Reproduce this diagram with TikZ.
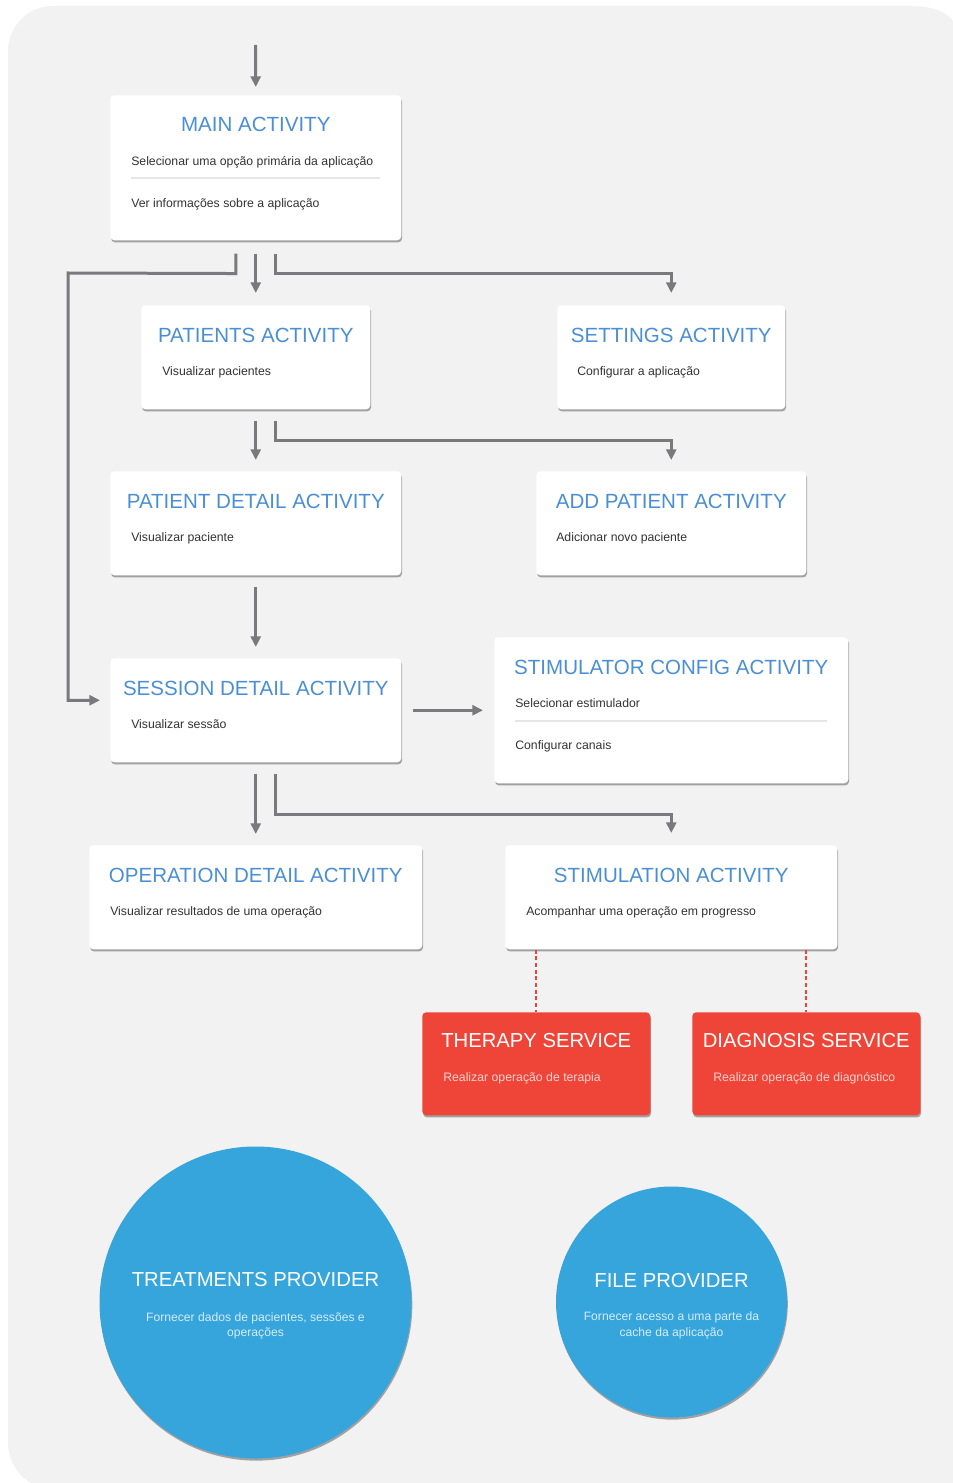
\documentclass[tikz,border=0pt]{standalone}
\usepackage{fontspec}
\setmainfont{Liberation Sans}
\usetikzlibrary{arrows.meta,calc,shadows}
\definecolor{bgc}{HTML}{F2F2F2}
\definecolor{ttlblue}{HTML}{4A8FD6}
\definecolor{bodyc}{HTML}{333333}
\definecolor{linegray}{HTML}{7A7A7C}
\definecolor{redc}{HTML}{EE4538}
\definecolor{redsub}{HTML}{FBD3CF}
\definecolor{circc}{HTML}{35A5DC}
\definecolor{circsub}{HTML}{D5ECF8}
\definecolor{sepc}{HTML}{E6E6E6}
\tikzset{
  shad/.style={drop shadow={opacity=.45, shadow xshift=.6pt, shadow yshift=-1.6pt, fill=black!75}},
  card/.style={rectangle, rounded corners=3pt, fill=white, inner sep=0pt, shad},
  redcard/.style={rectangle, rounded corners=3pt, fill=redc, inner sep=0pt, shad},
  ttl/.style={inner sep=0pt, anchor=center, text=ttlblue, font=\fontsize{15.4}{18}\selectfont},
  body/.style={inner sep=0pt, anchor=mid west, text=bodyc, font=\fontsize{9.2}{11}\selectfont},
  wttl/.style={inner sep=0pt, anchor=center, text=white, font=\fontsize{15.2}{18}\selectfont},
  rsub/.style={inner sep=0pt, anchor=mid west, text=redsub, font=\fontsize{9.2}{11}\selectfont},
  csub/.style={inner sep=0pt, anchor=mid, text=circsub, font=\fontsize{9.1}{11}\selectfont},
  conn/.style={draw=linegray, line width=2.25pt},
  arr/.style={conn, -{Triangle[width=7.5pt,length=8pt]}},
  dashln/.style={draw=redc, line width=1.5pt, dash pattern=on 3pt off 2pt},
}
% name, x1, y1, x2, y2, style
\newcommand\mkbox[6]{%
  \node[#6, anchor=north west, minimum width={(#4-#2)*0.75pt}, minimum height={(#5-#3)*0.75pt}] (#1) at (#2,#3) {};}
\begin{document}
\begin{tikzpicture}[x=0.75pt,y=-0.75pt]
\useasboundingbox (0,0) rectangle (952,1483);
\fill[bgc] (53,6) -- (912,6) .. controls (937,6) and (957,15) .. (957,35)
  -- (957,1487) -- (48,1487) .. controls (26,1487) and (8,1467) .. (8,1442)
  -- (8,51) .. controls (8,26) and (28,6) .. (53,6) -- cycle;

% ---- activity cards
\mkbox{main}{110}{95}{401}{240}{card}
\node[ttl] (main-t) at ($(main.north)+(0,29)$) {MAIN ACTIVITY};
\node[body] (main-d1) at (131,162) {Selecionar uma opção primária da aplicação};
\draw[sepc, line width=1pt] (131,178) -- (380,178);
\node[body] (main-d2) at (131,204) {Ver informações sobre a aplicação};

\mkbox{pat}{141}{305}{370}{409}{card}
\node[ttl] (pat-t) at ($(pat.north)+(0,30)$) {PATIENTS ACTIVITY};
\node[body] (pat-d) at (162,372) {Visualizar pacientes};

\mkbox{set}{557}{305}{785}{409}{card}
\node[ttl] (set-t) at ($(set.north)+(0,30)$) {SETTINGS ACTIVITY};
\node[body] (set-d) at (577,372) {Configurar a aplicação};

\mkbox{pd}{110}{471}{401}{575}{card}
\node[ttl] (pd-t) at ($(pd.north)+(0,30)$) {PATIENT DETAIL ACTIVITY};
\node[body] (pd-d) at (131,538) {Visualizar paciente};

\mkbox{add}{536}{471}{806}{575}{card}
\node[ttl] (add-t) at ($(add.north)+(0,30)$) {ADD PATIENT ACTIVITY};
\node[body] (add-d) at (556,538) {Adicionar novo paciente};

\mkbox{ses}{110}{658}{401}{762}{card}
\node[ttl] (ses-t) at ($(ses.north)+(0,30)$) {SESSION DETAIL ACTIVITY};
\node[body] (ses-d) at (131,725) {Visualizar sessão};

\mkbox{cfg}{494}{637}{848}{783}{card}
\node[ttl] (cfg-t) at ($(cfg.north)+(0,30)$) {STIMULATOR CONFIG ACTIVITY};
\node[body] (cfg-d1) at (515,704) {Selecionar estimulador};
\draw[sepc, line width=1pt] (515,721) -- (827,721);
\node[body] (cfg-d2) at (515,746) {Configurar canais};

\mkbox{op}{89}{845}{422}{949}{card}
\node[ttl] (op-t) at ($(op.north)+(0,30)$) {OPERATION DETAIL ACTIVITY};
\node[body] (op-d) at (110,912) {Visualizar resultados de uma operação};

\mkbox{stim}{505}{845}{837}{949}{card}
\node[ttl] (stim-t) at ($(stim.north)+(0,30)$) {STIMULATION ACTIVITY};
\node[body] (stim-d) at (526,912) {Acompanhar uma operação em progresso};

% ---- services
\mkbox{ther}{422}{1012}{650}{1115}{redcard}
\node[wttl] (ther-t) at ($(ther.north)+(0,29)$) {THERAPY SERVICE};
\node[rsub] (ther-d) at (443,1078) {Realizar operação de terapia};

\mkbox{diag}{692}{1012}{920}{1115}{redcard}
\node[wttl] (diag-t) at ($(diag.north)+(0,29)$) {DIAGNOSIS SERVICE};
\node[rsub] (diag-d) at (713,1078) {Realizar operação de diagnóstico};

% ---- providers
\node[circle, fill=circc, inner sep=0pt, minimum size={312*0.75pt}, shad] (tp) at (255.5,1302.5) {};
\node[wttl] (tp-t) at (255.5,1280) {TREATMENTS PROVIDER};
\node[csub] (tp-d1) at (255.5,1318) {Fornecer dados de pacientes, sessões e};
\node[csub] (tp-d2) at (255.5,1333) {operações};

\node[circle, fill=circc, inner sep=0pt, minimum size={231*0.75pt}, shad] (fp) at (671.5,1302) {};
\node[wttl] (fp-t) at (671.5,1281) {FILE PROVIDER};
\node[csub] (fp-d1) at (671.5,1317) {Fornecer acesso a uma parte da};
\node[csub] (fp-d2) at (671.5,1333) {cache da aplicação};

% ---- connectors
\coordinate (start) at (255.5,45);
\draw[arr] (start) -- ($(main.north)+(0,-8)$);
\draw[arr] ($(main.south)+(0,13)$) -- ($(pat.north)+(0,-12)$);
\draw[arr] ($(main.south)+(20,13)$) -- ++(0,20) -| ($(set.north)+(0,-12)$);
\coordinate (lbend) at (68,273);
\draw[arr] ($(main.south)+(-20,13)$) -- ++(0,20) -- (lbend) |- ($(ses.west)+(-10,-10)$);
\draw[arr] ($(pat.south)+(0,11)$) -- ($(pd.north)+(0,-11)$);
\draw[arr] ($(pat.south)+(20,11)$) -- ++(0,20) -| ($(add.north)+(0,-11)$);
\draw[arr] ($(pd.south)+(0,11)$) -- ($(ses.north)+(0,-11)$);
\draw[arr] ($(ses.east)+(11,0)$) -- ($(cfg.west)+(-11,0)$);
\draw[arr] ($(ses.south)+(0,11)$) -- ($(op.north)+(0,-11)$);
\draw[arr] ($(ses.south)+(20,11)$) -- ++(0,41) -| ($(stim.north)+(0,-12)$);
\draw[dashln] (ther.north |- stim.south) -- (ther.north);
\draw[dashln] (diag.north |- stim.south) -- (diag.north);
\end{tikzpicture}
\end{document}
